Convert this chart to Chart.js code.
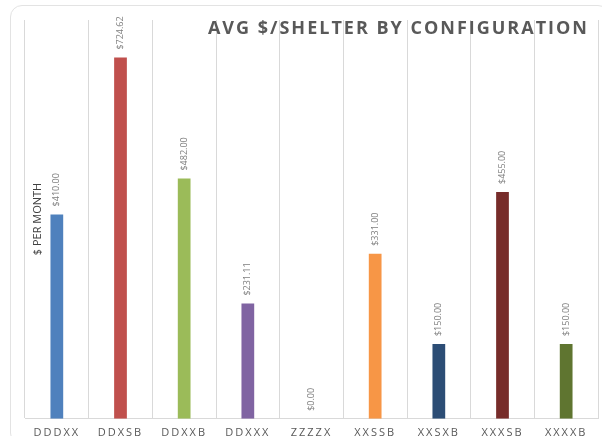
<!DOCTYPE html>
<html>
<head>
<meta charset="utf-8">
<script src="https://cdn.jsdelivr.net/npm/chart.js@4"></script>
<style>
  html, body { margin: 0; padding: 0; background: #fff; }
  #wrap { position: relative; width: 602px; height: 436px; overflow: hidden; }
  #frame {
    position: absolute; left: 10px; top: 5px; width: 600px; height: 440px;
    border: 1px solid #e3e3e3; border-radius: 12px; box-sizing: border-box;
  }
  canvas { position: absolute; left: 0; top: 0; }
</style>
</head>
<body>
<div id="wrap">
  <div id="frame"></div>
  <canvas id="chart" width="602" height="436"></canvas>
</div>
<script>
// configurações e valores
const configs = ["DDDXX", "DDXSB", "DDXXB", "DDXXX", "ZZZZX", "XXSSB", "XXSXB", "XXXSB", "XXXXB"];
const avgPerShelter = [410.0, 724.62, 482.0, 231.11, 0.0, 331.0, 150.0, 455.0, 150.0];
const barColors = ["#4F81BD", "#C0504D", "#9BBB59", "#8064A2", "#4F81BD", "#F79646", "#2C4D75", "#772C2A", "#5F7530"];
const chartTitle = "AVG $/SHELTER BY CONFIGURATION";
const axisTitle = "$ PER MONTH";

document.addEventListener("DOMContentLoaded", function () {
  // espaçamento entre letras só para os rótulos do eixo
  const spacing = {
    id: "spacing",
    beforeDraw(chart) { chart.ctx.letterSpacing = "2px"; },
    beforeDatasetsDraw(chart) { chart.ctx.letterSpacing = "0px"; }
  };

  // rótulos de valor girados acima das barras
  const valueLabels = {
    id: "valueLabels",
    afterDatasetsDraw(chart) {
      const ctx = chart.ctx;
      const meta = chart.getDatasetMeta(0);
      ctx.save();
      ctx.font = "9px 'Open Sans'";
      ctx.fillStyle = "#7f7f7f";
      ctx.textAlign = "left";
      ctx.textBaseline = "middle";
      meta.data.forEach((bar, i) => {
        const txt = "$" + avgPerShelter[i].toFixed(2);
        ctx.save();
        ctx.translate(bar.x, bar.y - 8);
        ctx.rotate(-Math.PI / 2);
        ctx.fillText(txt, 0, 0);
        ctx.restore();
      });
      ctx.restore();
    },
    afterDraw(chart) {
      const ctx = chart.ctx;
      const area = chart.chartArea;
      ctx.save();
      // título
      ctx.letterSpacing = "2px";
      ctx.font = "bold 18px 'Open Sans'";
      ctx.fillStyle = "#595959";
      ctx.textAlign = "right";
      ctx.textBaseline = "middle";
      ctx.fillText(chartTitle, 589, 29);
      // título do eixo y
      ctx.letterSpacing = "0px";
      ctx.font = "11px 'Open Sans'";
      ctx.fillStyle = "#404040";
      ctx.textAlign = "center";
      ctx.translate(area.left + 13, 219);
      ctx.rotate(-Math.PI / 2);
      ctx.fillText(axisTitle, 0, 0);
      ctx.restore();
    }
  };

  new Chart(document.getElementById("chart"), {
    type: "bar",
    data: {
      labels: configs,
      datasets: [{
        data: avgPerShelter,
        backgroundColor: barColors,
        categoryPercentage: 1,
        barPercentage: 0.2
      }]
    },
    options: {
      responsive: false,
      animation: false,
      layout: { padding: { left: 25, right: 4, top: 20, bottom: -10 } },
      plugins: { legend: { display: false }, tooltip: { enabled: false } },
      scales: {
        x: {
          grid: { color: "#d9d9d9", drawTicks: false, offset: true },
          border: { color: "#d9d9d9" },
          ticks: { color: "#595959", font: { family: "'Open Sans'", size: 11 }, padding: 7, maxRotation: 0 }
        },
        y: {
          display: false,
          min: 0,
          max: 800
        }
      }
    },
    plugins: [spacing, valueLabels]
  });
});
</script>
</body>
</html>
